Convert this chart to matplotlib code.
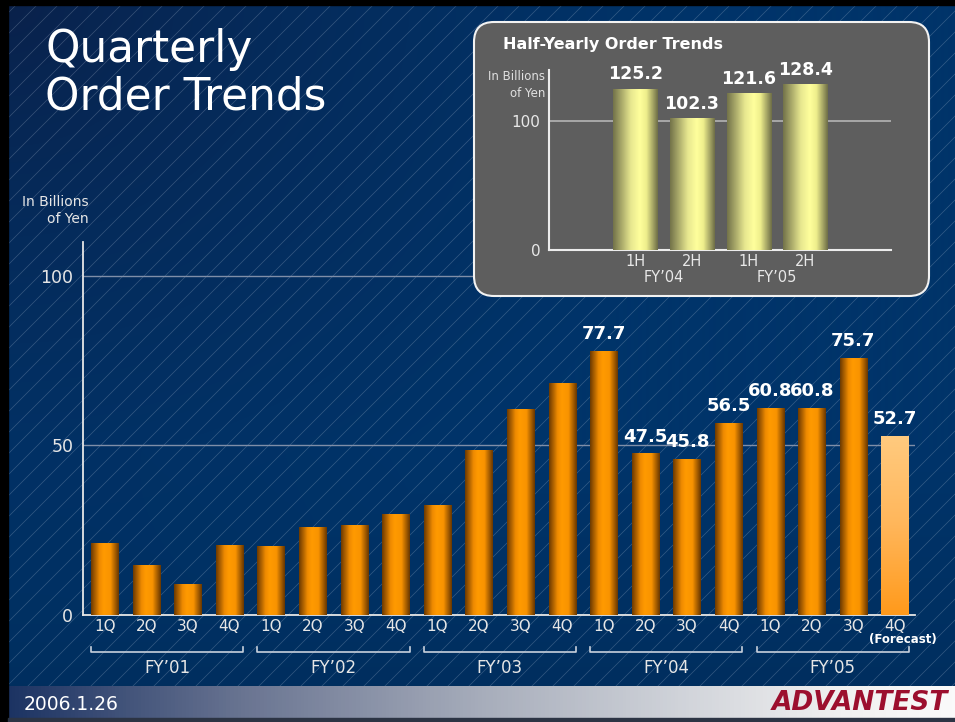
import numpy as np
import matplotlib
matplotlib.use('Agg')
import matplotlib.pyplot as plt
from matplotlib.colors import LinearSegmentedColormap, to_rgb
from matplotlib.patches import FancyBboxPatch, Rectangle

quarters = ['1Q', '2Q', '3Q', '4Q'] * 5
fiscal_years = ["FY’01", "FY’02", "FY’03", "FY’04", "FY’05"]
orders = [21.2, 14.5, 9.1, 20.4,
          20.1, 25.7, 26.3, 29.5,
          32.2, 48.4, 60.5, 68.4,
          77.7, 47.5, 45.8, 56.5,
          60.8, 60.8, 75.7, 52.7]
first_labeled = 12  # values printed for FY'04 and FY'05 only
half_labels = ['1H', '2H', '1H', '2H']
half_years = ["FY’04", "FY’05"]
half_orders = [125.2, 102.3, 121.6, 128.4]

W, H = 955, 722
fig = plt.figure(figsize=(9.55, 7.22), dpi=100)

# background with diagonal pinstripes
bg = fig.add_axes([0, 0, 1, 1], zorder=0)
bg.set_xlim(0, W)
bg.set_ylim(H, 0)
bg.axis('off')
yy, xx = np.mgrid[0:H, 0:W]
d = np.clip(np.hypot(xx / W, yy / H * 0.9) / 0.75, 0, 1)
c0 = np.array(to_rgb('#0b1f47'))
c1 = np.array(to_rgb('#00346a'))
img = c0 + (c1 - c0) * (d[..., None] ** 0.6)
img = img * (1 - 0.12 * np.clip((yy[..., None] - 450) / 270, 0, 1))
bg.imshow(img, extent=[0, W, H, 0], aspect='auto', zorder=0)
for c in range(-H, W + 20, 21):
    bg.plot([c, c + H], [H, 0], color='#c8d4e4', alpha=0.26, lw=0.5, zorder=1)

# footer strip
strip = LinearSegmentedColormap.from_list('strip', [
    (0, '#1c3363'), (0.25, '#6a7592'), (0.5, '#a7adbb'),
    (0.72, '#d2d5db'), (0.88, '#f0f0f0'), (1, '#fafafa')])
bg.imshow(np.linspace(0, 1, 256)[None, :], cmap=strip,
          extent=[8, W, 718, 686], aspect='auto', zorder=3)
bg.add_patch(Rectangle((0, 0), W, 5, color='black', zorder=4))
bg.add_patch(Rectangle((0, 0), 8, H, color='black', zorder=4))
bg.add_patch(Rectangle((8, 718), W, 4, color='#2c3444', zorder=4))
bg.text(24, 704, '2006.1.26', color='white', fontsize=13.5, va='center', zorder=5)
bg.text(948, 703, 'ADVANTEST', color='#9c0f2e', fontsize=19, fontweight='heavy',
        style='italic', ha='right', va='center', zorder=5,
        family=['DejaVu Sans', 'Liberation Sans'])

# title
fig.text(45 / W, 1 - 28 / H, 'Quarterly\nOrder Trends', color='white', fontsize=31.5,
         va='top', ha='left', linespacing=1.12)
fig.text(89 / W, 1 - 195 / H, 'In Billions\nof Yen', color='#e6e6e6', fontsize=10,
         va='top', ha='right', linespacing=1.3)

# main quarterly chart
orange = LinearSegmentedColormap.from_list('orange', [
    (0, '#6e3a00'), (0.3, '#ee8a00'), (0.45, '#ff9a00'),
    (0.7, '#f99300'), (1, '#6a3800')])
forecast = LinearSegmentedColormap.from_list('fc', ['#ff9a1c', '#ffb65a', '#ffca7e'])

ax = fig.add_axes([83 / W, 1 - 615 / H, (915 - 83) / W, (615 - 242) / H], zorder=2)
ax.patch.set_alpha(0)
x = np.arange(len(orders))
bars = ax.bar(x, orders, width=0.66, color='none', zorder=3)
hgrad = np.linspace(0, 1, 64)[None, :]
for i, b in enumerate(bars):
    ext = [b.get_x(), b.get_x() + b.get_width(), 0, b.get_height()]
    if i == len(orders) - 1:
        ax.imshow(np.linspace(1, 0, 64)[:, None], cmap=forecast, extent=ext,
                  aspect='auto', zorder=3)
    else:
        ax.imshow(hgrad, cmap=orange, extent=ext, aspect='auto', zorder=3)
    if i >= first_labeled:
        ax.annotate(f'{orders[i]:.1f}', (b.get_x() + b.get_width() / 2, b.get_height()),
                    xytext=(0, 6), textcoords='offset points', ha='center', va='bottom',
                    color='white', fontsize=13, fontweight='bold', zorder=5)
ax.set_xlim(-0.52, len(orders) - 0.52)
ax.set_ylim(0, 110)
ax.set_yticks([0, 50, 100])
ax.set_xticks(x)
ax.set_xticklabels(quarters)
ax.tick_params(length=0, colors='#e6e6e6', labelsize=11)
ax.tick_params(axis='y', labelsize=12.5, pad=7)
ax.tick_params(axis='x', pad=3)
ax.yaxis.grid(True, color='#7f8ea8', lw=1)
ax.set_axisbelow(True)
for s in ['top', 'right']:
    ax.spines[s].set_visible(False)
for s in ['left', 'bottom']:
    ax.spines[s].set_color('#e6e6e6')
    ax.spines[s].set_linewidth(1.3)

tr = ax.get_xaxis_transform()
hw = 0.33
for g, fy in enumerate(fiscal_years):
    a, b2 = g * 4 - hw, g * 4 + 3 + hw
    ax.plot([a, a, b2, b2], [-0.086, -0.099, -0.099, -0.086], color='#c8d0dc',
            lw=1.2, transform=tr, clip_on=False)
    ax.text((a + b2) / 2, -0.142, fy, color='#e6e6e6', fontsize=12, ha='center',
            va='center', transform=tr)
ax.text(x[-1] + 0.2, -0.066, '(Forecast)', color='white', fontsize=8.5, fontweight='bold',
        ha='center', va='center', transform=tr,
        family=['Liberation Sans Narrow', 'DejaVu Sans'])

# half-yearly inset
ov = fig.add_axes([0, 0, 1, 1], zorder=3)
ov.set_xlim(0, W)
ov.set_ylim(H, 0)
ov.axis('off')
ov.patch.set_alpha(0)
ov.add_patch(FancyBboxPatch((474, 22), 455, 274, boxstyle='round,pad=0,rounding_size=20',
                            facecolor='#5e5e5e', edgecolor='#f2f2f2', lw=1.5))
ov.text(503, 44, 'Half-Yearly Order Trends', color='white', fontsize=11.5,
        fontweight='bold', va='center')
ov.text(545, 70, 'In Billions\nof Yen', color='#e0e0e0', fontsize=8.5, ha='right',
        va='top', linespacing=1.4)

yellow = LinearSegmentedColormap.from_list('yellow', [
    (0, '#74744a'), (0.4, '#e8e890'), (0.6, '#ffff9c'), (0.75, '#eeee8c'), (1, '#707048')])
ax2 = fig.add_axes([549 / W, 1 - 250 / H, (891 - 549) / W, (250 - 70) / H], zorder=4)
ax2.patch.set_alpha(0)
hx = np.arange(len(half_orders))
hbars = ax2.bar(hx, half_orders, width=0.78, color='none', zorder=3)
for v, b in zip(half_orders, hbars):
    ax2.imshow(hgrad, cmap=yellow, aspect='auto', zorder=3,
               extent=[b.get_x(), b.get_x() + b.get_width(), 0, b.get_height()])
    ax2.annotate(f'{v:.1f}', (b.get_x() + b.get_width() / 2, v), xytext=(0, 4),
                 textcoords='offset points', ha='center', va='bottom', color='white',
                 fontsize=12.5, fontweight='bold', zorder=5)
ax2.set_xlim(-1.52, 4.51)
ax2.set_ylim(0, 140)
ax2.set_yticks([0, 100])
ax2.set_xticks(hx)
ax2.set_xticklabels(half_labels)
ax2.tick_params(length=0, colors='#e8e8e8', labelsize=10.5, pad=3)
ax2.tick_params(axis='y', labelsize=11, pad=6)
ax2.yaxis.grid(True, color='#b4b4b4', lw=1.2)
ax2.set_axisbelow(True)
for s in ['top', 'right']:
    ax2.spines[s].set_visible(False)
for s in ['left', 'bottom']:
    ax2.spines[s].set_color('#ececec')
    ax2.spines[s].set_linewidth(1.5)
tr2 = ax2.get_xaxis_transform()
for k, fy in enumerate(half_years):
    ax2.text(2 * k + 0.5, -0.155, fy, color='#e8e8e8', fontsize=10.5, ha='center',
             va='center', transform=tr2)

fig.savefig('out.png', dpi=100)
